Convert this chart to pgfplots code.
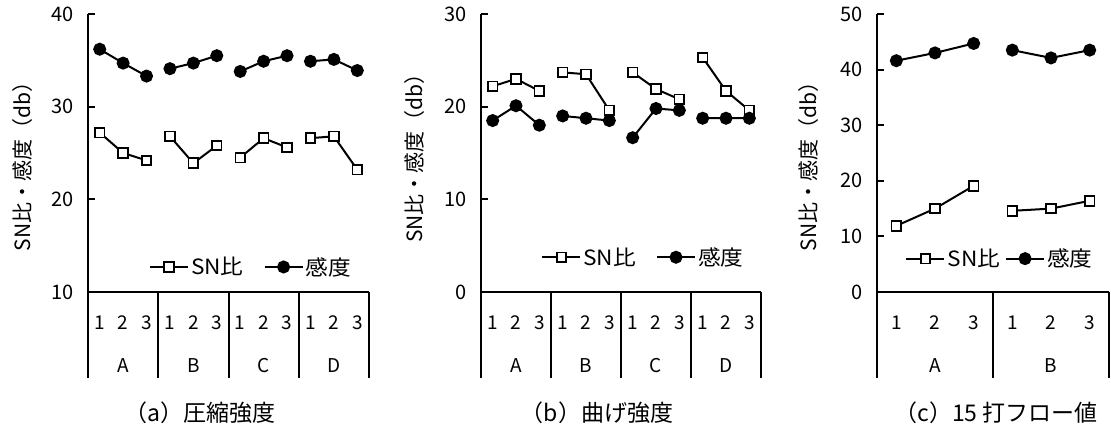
\documentclass[border=0pt]{standalone}
\usepackage{fontspec}
\setmainfont{Noto Sans CJK JP}
\newfontfamily\plainjp{Noto Sans CJK JP}
\newfontfamily\legjp{Noto Sans CJK JP}[FakeStretch=1.08]
\usepackage{pgfplots}
\pgfplotsset{compat=1.18}
\newcommand{\fs}[1]{\fontsize{#1}{#1}\selectfont}

\pgfplotsset{
 panel/.style={
  scale only axis, height=278pt,
  axis x line=bottom, axis y line=left,
  axis line style={-, line width=2pt, black},
  ytick style={line width=2pt, black},
  major tick length=7pt, tick align=inside,
  xtick style={draw=none},
  xticklabel style={anchor=center, yshift=-31pt, font=\fs{19}},
  yticklabel style={font=\fs{20}, xshift=-11pt},
  /pgf/number format/assume math mode=true,
  clip=false, unbounded coords=jump,
  xmin=-0.5,
  legend style={draw=none, fill=none, font=\legjp\fs{21}, legend columns=2, anchor=center, inner sep=0pt},
  legend image code/.code={\draw[mark repeat=2, mark phase=2, ##1] plot coordinates {(0pt,0pt) (19pt,0pt) (38pt,0pt)};},
 },
 sn/.style={black, line width=2pt, mark=square*, mark size=4.8pt, mark options={fill=white, line width=1.8pt}},
 kd/.style={black, line width=2pt, mark=*, mark size=5.5pt, mark options={fill=black}},
}

\begin{document}
\begin{tikzpicture}
\useasboundingbox (0pt,-427pt) rectangle (1111pt,0pt);

% ---------------- (a) ----------------
\begin{axis}[panel, at={(88pt,-292pt)}, anchor=south west, width=281pt,
  xmax=11.5, ymin=10, ymax=40, ytick={10,20,30,40},
  xtick={0,...,11}, xticklabels={1,2,3,1,2,3,1,2,3,1,2,3},
  legend style={at={(0.58,0.09)}, /tikz/every even column/.append style={column sep=18pt}}]
\addplot[sn] coordinates {(0,27.2)(1,25.0)(2,24.2)(2.5,nan)(3,26.8)(4,23.9)(5,25.8)(5.5,nan)(6,24.5)(7,26.6)(8,25.6)(8.5,nan)(9,26.6)(10,26.8)(11,23.2)};
\addlegendentry{SN比}
\addplot[kd] coordinates {(0,36.2)(1,34.7)(2,33.3)(2.5,nan)(3,34.1)(4,34.7)(5,35.5)(5.5,nan)(6,33.8)(7,34.9)(8,35.5)(8.5,nan)(9,34.9)(10,35.1)(11,33.9)};
\addlegendentry{感度}
\draw[line width=2pt] (axis cs:-0.5,10) -- ++(0pt,-86pt);
\draw[line width=2pt] (axis cs:2.5,10) -- ++(0pt,-86pt);
\draw[line width=2pt] (axis cs:5.5,10) -- ++(0pt,-86pt);
\draw[line width=2pt] (axis cs:8.5,10) -- ++(0pt,-86pt);
\draw[line width=2pt] (axis cs:11.5,10) -- ++(0pt,-86pt);
\node[font=\fs{19}] at ([yshift=-74pt]axis cs:1,10) {A};
\node[font=\fs{19}] at ([yshift=-74pt]axis cs:4,10) {B};
\node[font=\fs{19}] at ([yshift=-74pt]axis cs:7,10) {C};
\node[font=\fs{19}] at ([yshift=-74pt]axis cs:10,10) {D};
\node[rotate=90, font=\plainjp\fs{21}] at ([xshift=-65pt]rel axis cs:0,0.47) {SN比・感度（db）};
\end{axis}

% ---------------- (b) ----------------
\begin{axis}[panel, at={(481pt,-292pt)}, anchor=south west, width=280pt,
  xmax=11.5, ymin=0, ymax=30, ytick={0,10,20,30},
  xtick={0,...,11}, xticklabels={1,2,3,1,2,3,1,2,3,1,2,3},
  legend style={at={(0.58,0.125)}, /tikz/every even column/.append style={column sep=18pt}}]
\addplot[sn] coordinates {(0,22.2)(1,23.0)(2,21.7)(2.5,nan)(3,23.7)(4,23.5)(5,19.6)(5.5,nan)(6,23.7)(7,21.9)(8,20.8)(8.5,nan)(9,25.3)(10,21.7)(11,19.6)};
\addlegendentry{SN比}
\addplot[kd] coordinates {(0,18.5)(1,20.1)(2,18.0)(2.5,nan)(3,19.0)(4,18.75)(5,18.5)(5.5,nan)(6,16.65)(7,19.8)(8,19.6)(8.5,nan)(9,18.75)(10,18.75)(11,18.75)};
\addlegendentry{感度}
\draw[line width=2pt] (axis cs:-0.5,0) -- ++(0pt,-86pt);
\draw[line width=2pt] (axis cs:2.5,0) -- ++(0pt,-86pt);
\draw[line width=2pt] (axis cs:5.5,0) -- ++(0pt,-86pt);
\draw[line width=2pt] (axis cs:8.5,0) -- ++(0pt,-86pt);
\draw[line width=2pt] (axis cs:11.5,0) -- ++(0pt,-86pt);
\node[font=\fs{19}] at ([yshift=-74pt]axis cs:1,0) {A};
\node[font=\fs{19}] at ([yshift=-74pt]axis cs:4,0) {B};
\node[font=\fs{19}] at ([yshift=-74pt]axis cs:7,0) {C};
\node[font=\fs{19}] at ([yshift=-74pt]axis cs:10,0) {D};
\node[rotate=90, font=\plainjp\fs{21}] at ([xshift=-66pt]rel axis cs:0,0.5) {SN比・感度（db）};
\end{axis}

% ---------------- (c) ----------------
\begin{axis}[panel, at={(877pt,-292pt)}, anchor=south west, width=232pt,
  xmax=5.5, ymin=0, ymax=50, ytick={0,10,20,30,40,50},
  xtick={0,...,5}, xticklabels={1,2,3,1,2,3},
  legend style={at={(0.53,0.12)}, /tikz/every even column/.append style={column sep=3pt}}]
\addplot[sn] coordinates {(0,11.9)(1,15.0)(2,19.1)(2.5,nan)(3,14.6)(4,15.0)(5,16.4)};
\addlegendentry{SN比}
\addplot[kd] coordinates {(0,41.6)(1,43.0)(2,44.7)(2.5,nan)(3,43.5)(4,42.1)(5,43.5)};
\addlegendentry{感度}
\draw[line width=2pt] (axis cs:-0.5,0) -- ++(0pt,-86pt);
\draw[line width=2pt] (axis cs:2.5,0) -- ++(0pt,-86pt);
\draw[line width=2pt] (axis cs:5.5,0) -- ++(0pt,-86pt);
\node[font=\fs{19}] at ([yshift=-74pt]axis cs:1,0) {A};
\node[font=\fs{19}] at ([yshift=-74pt]axis cs:4,0) {B};
\node[rotate=90, font=\plainjp\fs{21}] at ([xshift=-68pt]rel axis cs:0,0.47) {SN比・感度（db）};
\end{axis}

% ---------------- captions ----------------
\node[font=\fs{23}] at (200pt,-413pt) {（a）圧縮強度};
\node[font=\fs{23}] at (597pt,-413pt) {（b）曲げ強度};
\node[font=\fs{23}] at (996pt,-413pt) {（c）15 打フロー値};
\end{tikzpicture}
\end{document}
